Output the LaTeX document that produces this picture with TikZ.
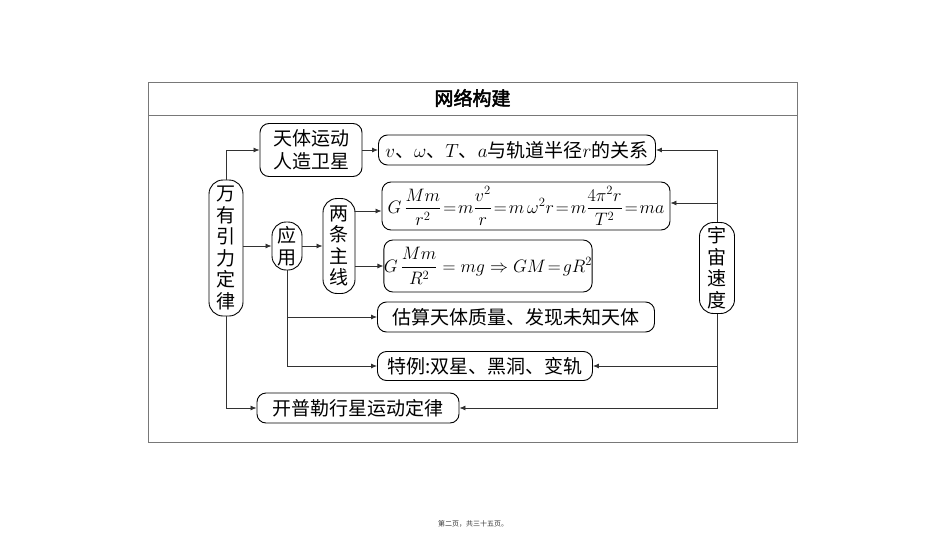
\documentclass[tikz,border=0pt]{standalone}
\usepackage{fix-cm}
\usepackage{amsmath}
\usepackage{fontspec}
\newfontfamily\cjk{Noto Sans CJK SC}
\newfontfamily\cjkb{Noto Sans CJK SC}[FakeBold=2.5]
\usetikzlibrary{arrows.meta}
\definecolor{framegray}{RGB}{120,120,120}
\definecolor{linegray}{RGB}{50,50,50}
\begin{document}
\begin{tikzpicture}[x=1pt,y=-1pt,
  box/.style={draw=black, rounded corners=9pt, inner sep=0pt, line width=0.9pt,
    font=\cjk\fontsize{19}{23}\selectfont, align=center},
  vbox/.style={box, rounded corners=14pt, font=\cjk\fontsize{19}{21.5}\selectfont},
  mbox/.style={box, font=\fontsize{18}{22}\selectfont},
  arr/.style={-{Latex[length=6pt,width=5pt]}, line width=0.8pt, draw=linegray},
  ln/.style={line width=0.8pt, draw=linegray}]
\useasboundingbox (0,0) rectangle (950,535);
% frame
\draw[framegray, line width=1pt] (148,82) rectangle (797,442);
\draw[framegray, line width=1pt] (148,115) -- (797,115);
\node[font=\cjkb\fontsize{19}{22}\selectfont] (title) at (472.5,98) {网络构建};
\node[font=\cjk\fontsize{7}{8}\selectfont, text=black!80] (foot) at (473,524) {第二页，共三十五页。};
% nodes
\node[vbox, minimum width=34pt, minimum height=136pt] (wy) at (226,248) {万\\有\\引\\力\\定\\律};
\node[box, minimum width=102pt, minimum height=53pt] (tt) at (311,150) {天体运动\\人造卫星};
\node[box, minimum width=277pt, minimum height=30pt] (vb) at (517,150) {$v$、$\omega$、$T$、$a$与轨道半径$r$的关系};
\node[vbox, minimum width=30pt, minimum height=48pt] (yy) at (287,246) {应\\用};
\node[vbox, minimum width=32pt, minimum height=95pt] (lt) at (339,246) {两\\条\\主\\线};
\node[mbox, minimum width=288pt, minimum height=48pt] (f1) at (526,206)
  {$G\,\dfrac{Mm}{r^2}\!=\!m\dfrac{v^2}{r}\!=\!m\,\omega^2r\!=\!m\dfrac{4\pi^2r}{T^2}\!=\!ma$};
\node[mbox, minimum width=207pt, minimum height=52pt] (f2) at (488,266)
  {$G\,\dfrac{Mm}{R^2}=mg\Rightarrow GM\!=\!gR^2$};
\node[box, minimum width=277pt, minimum height=30pt] (gs) at (516,317) {估算天体质量、发现未知天体};
\node[box, minimum width=215pt, minimum height=29pt] (tl) at (485,366) {特例:双星、黑洞、变轨};
\node[box, minimum width=202pt, minimum height=30pt] (kp) at (358,408) {开普勒行星运动定律};
\node[vbox, minimum width=35pt, minimum height=91pt] (yz) at (717,268) {宇\\宙\\速\\度};
% level coordinates
\coordinate (r1) at (0,211);
\coordinate (r2) at (0,266);
\coordinate (r3) at (0,203);
% connectors
\draw[arr] (wy.north) |- (tt.west);
\draw[arr] (wy.south) |- (kp.west);
\draw[arr] (wy.east |- yy.west) -- (yy.west);
\draw[arr] (yy.east) -- (lt.west);
\draw[arr] (tt.east) -- (vb.west);
\draw[arr] (lt.east |- r1) -- (f1.west |- r1);
\draw[arr] (lt.east |- r2) -- (f2.west |- r2);
\draw[arr] (yy.south) |- (tl.west);
\draw[arr] (yy.south |- gs.west) -- (gs.west);
\draw[arr] (yz.north) |- (vb.east);
\draw[arr] (yz.north |- r3) -- (f1.east |- r3);
\draw[arr] (yz.south) |- (kp.east);
\draw[arr] (yz.south |- tl.east) -- (tl.east);
\end{tikzpicture}
\end{document}
